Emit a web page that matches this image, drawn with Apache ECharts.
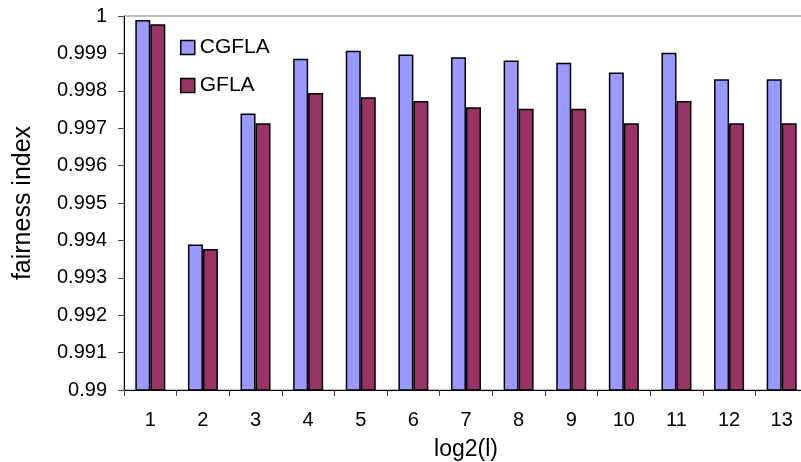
<!DOCTYPE html>
<html>
<head>
<meta charset="utf-8">
<script src="https://cdn.jsdelivr.net/npm/echarts@6/dist/echarts.min.js"></script>
<style>
  html, body { margin: 0; padding: 0; background: #fff; }
  #main { width: 801px; height: 462px; }
</style>
</head>
<body>
<div id="main"></div>
<script>
'use strict'

// x categories: log2(l)
let categories = ['1', '2', '3', '4', '5', '6', '7', '8', '9', '10', '11', '12', '13'];
// fairness index per scheme
let cgflaValues = [0.99989, 0.99389, 0.99739, 0.99886, 0.99907, 0.99897, 0.99890, 0.99881, 0.99875, 0.99849, 0.99902, 0.99831, 0.99831];
let gflaValues = [0.99978, 0.99377, 0.99713, 0.99794, 0.99783, 0.99773, 0.99756, 0.99752, 0.99752, 0.99713, 0.99773, 0.99713, 0.99713];
// y axis ticks
let yMin = 0.99;
let yMax = 1;
let yStep = 0.001;

let font = '"Liberation Sans", Arial, sans-serif';
let myChart = echarts.init(document.getElementById('main'));

myChart.setOption({
    backgroundColor: '#fff',
    animation: false,
    textStyle: { fontFamily: font, color: '#000' },
    grid: {
        left: 124,
        width: 684, // plot runs a little past the right edge, as in the picture
        top: 16,
        bottom: 72,
        outerBoundsMode: 'none',
        show: true,
        borderColor: '#808080',
        borderWidth: 1,
        backgroundColor: '#fff'
    },
    legend: {
        orient: 'vertical',
        left: 175,
        top: 32,
        itemWidth: 14,
        itemHeight: 14,
        itemGap: 17,
        icon: 'rect',
        data: ['CGFLA', 'GFLA'],
        textStyle: { fontFamily: font, fontSize: 21, color: '#000' },
        itemStyle: { borderColor: '#000', borderWidth: 1.5 }
    },
    xAxis: {
        type: 'category',
        data: categories,
        name: 'log2(l)',
        nameLocation: 'middle',
        nameGap: 48,
        nameTextStyle: { fontFamily: font, fontSize: 23, color: '#000' },
        axisLine: { lineStyle: { color: '#000', width: 1 } },
        axisTick: { show: true, alignWithLabel: false, length: 6, lineStyle: { color: '#444' } },
        axisLabel: { fontFamily: font, fontSize: 20, color: '#000', margin: 20 }
    },
    yAxis: {
        type: 'value',
        min: yMin,
        max: yMax,
        interval: yStep,
        name: 'fairness index',
        nameLocation: 'middle',
        nameGap: 88,
        nameTextStyle: { fontFamily: font, fontSize: 25, color: '#000' },
        axisLine: { show: true, lineStyle: { color: '#000', width: 1 } },
        axisTick: { show: true, length: 6, lineStyle: { color: '#444' } },
        splitLine: { show: false },
        axisLabel: { fontFamily: font, fontSize: 20, color: '#000', margin: 17 }
    },
    series: [{
        name: 'CGFLA',
        type: 'bar',
        barWidth: 15,
        barGap: '0%',
        itemStyle: { color: '#9999FF', borderColor: '#000', borderWidth: 1.5 },
        data: cgflaValues
    }, {
        name: 'GFLA',
        type: 'bar',
        barWidth: 15,
        barGap: '0%',
        itemStyle: { color: '#993366', borderColor: '#000', borderWidth: 1.5 },
        data: gflaValues
    }]
});
</script>
</body>
</html>
